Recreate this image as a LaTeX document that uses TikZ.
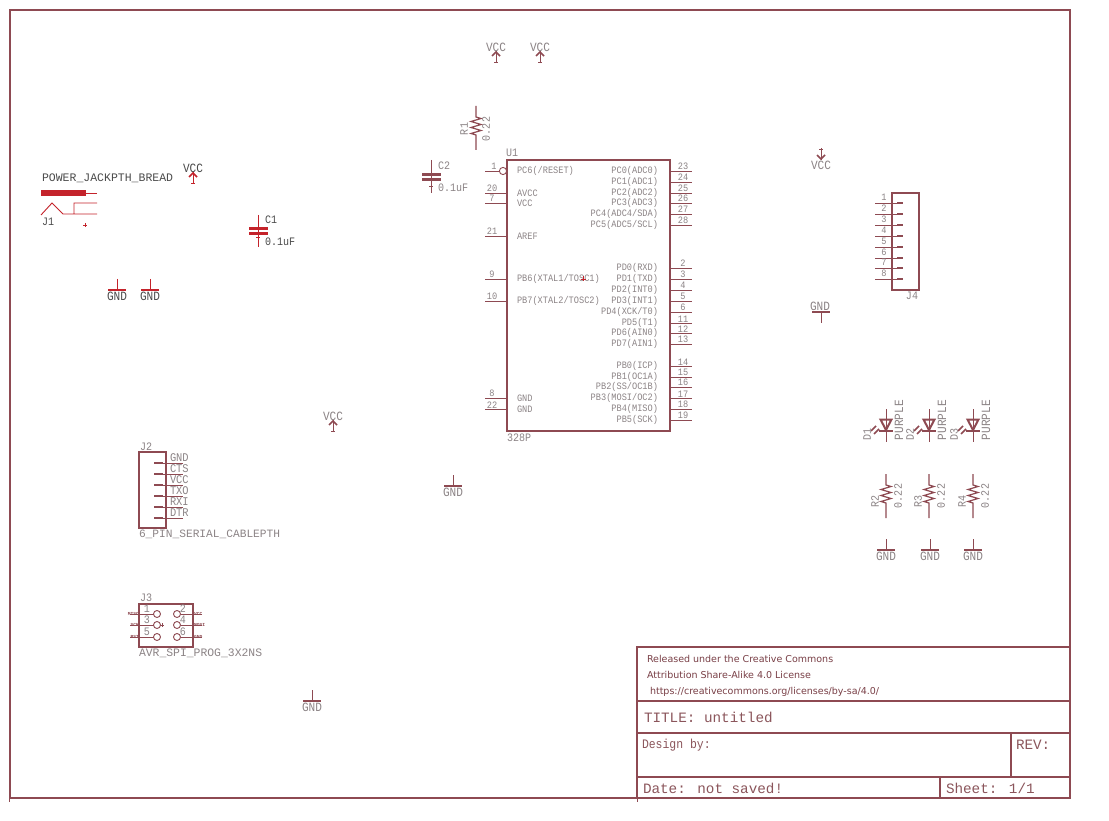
\documentclass[tikz,border=0pt]{standalone}
\usepackage{fontspec}
\setmainfont{Liberation Mono}
\newfontfamily\licfont{DejaVu Sans}
\newfontfamily\pinfont[FakeStretch=0.88]{Liberation Mono}
\usetikzlibrary{positioning}
\definecolor{schline}{HTML}{8E4A52}
\definecolor{schred}{HTML}{C4232B}
\definecolor{schtext}{HTML}{8C8486}
\definecolor{schdark}{HTML}{4A4A4A}
\tikzset{
  frameline/.style={draw=schline, line width=2pt},
  pinline/.style={draw=schline, line width=0.9pt},
  redline/.style={draw=schred, line width=0.9pt},
  txt/.style={inner sep=0, outer sep=0, text=schtext, font=\pinfont\fontsize{9.8}{11}\selectfont},
  txtval/.style={txt, font=\pinfont\fontsize{11.4}{13}\selectfont},
  txtsym/.style={txt, font=\pinfont\fontsize{12.6}{14}\selectfont},
  txtbig/.style={txt, font=\fontsize{11.4}{13}\selectfont},
  txttitle/.style={txt, text=schline!80!gray, font=\fontsize{14.3}{16}\selectfont},
  txtlic/.style={inner sep=0, outer sep=0, anchor=west, text=schline!85!black, font=\licfont\fontsize{9.5}{12}\selectfont},
  txttiny/.style={inner sep=0, outer sep=0, text=schline, font=\bfseries\fontsize{4.6}{5}\selectfont},
}
% supply and ground symbols: x, y of the free end
\newcommand{\vccup}[4][schline]{
  \draw[draw=#1, line width=0.9pt] (#2,#3+12) -- (#2,#3) (#2-2,#3+11) -- (#2+2,#3+11);
  \draw[draw=#1, line width=1.5pt] (#2-4,#3+5) -- (#2,#3+1) -- (#2+4,#3+5);
  \node[txtsym, text=#4] (vcc#2) at (#2,#3-4) {VCC};
}
\newcommand{\gndsym}[4][schline]{
  \draw[draw=#1, line width=0.9pt] (#2,#3) -- (#2,#3+11);
  \draw[draw=#1, line width=2pt] (#2-9,#3+11) -- (#2+9,#3+11);
  \node[txtsym, text=#4] (gnd#2x#3) at (#2,#3+17) {GND};
}
\newcommand{\resv}[2]{
  \draw[pinline, line width=1.2pt] (#1,#2) -- (#1,#2+11) -- ++(5,1.5) -- ++(-10,3) -- ++(10,3) -- ++(-10,3) -- ++(10,3) -- ++(-10,3) -- ++(5,1.5) -- (#1,#2+44);
}
\newcommand{\ledv}[2]{
  \draw[pinline] (#1,#2) -- (#1,#2+33);
  \draw[pinline, line width=2pt] (#1-5.5,#2+10.5) -- (#1+5.5,#2+10.5) -- (#1,#2+21) -- cycle;
  \draw[pinline, line width=2pt] (#1-7,#2+22) -- (#1+7,#2+22);
  \draw[pinline, line width=1.6pt] (#1-15,#2+22) -- ++(5,-5) (#1-12,#2+25) -- ++(5,-5);
}
\begin{document}
\begin{tikzpicture}[x=1pt, y=-1pt]
  \useasboundingbox (0,0) rectangle (1109,821);
  \fill[white] (0,0) rectangle (1109,821);

  % sheet frame
  \draw[frameline] (9.5,10) rectangle (1070,798);
  \draw[frameline] (637,647) rectangle (1070,798);
  \draw[frameline] (637,701) -- (1070,701);
  \draw[frameline] (637,733) -- (1070,733);
  \draw[frameline] (637,777) -- (1070,777);
  \draw[frameline] (1011,733) -- (1011,777);
  \draw[frameline] (940,777) -- (940,798);
  \draw[pinline] (637,798) -- (637,802);
  \draw[pinline] (9.5,798) -- (9.5,802);

  \node[txtlic] (lic1) at (647,659) {Released under the Creative Commons};
  \node[txtlic] (lic2) at (647,675) {Attribution Share-Alike 4.0 License};
  \node[txtlic] (lic3) at (650,692) {https://creativecommons.org/licenses/by-sa/4.0/};
  \node[txttitle, anchor=west] (title) at (644,717) {TITLE: untitled};
  \node[txttitle, anchor=west, font=\pinfont\fontsize{13}{16}\selectfont] (design) at (642,745) {Design by:};
  \node[txttitle, anchor=west] (rev) at (1016,745) {REV:};
  \node[txttitle, anchor=west] (date) at (643,788) {Date: not saved!};
  \node[txttitle, anchor=west] (sheet) at (946,788) {Sheet: 1/1};

  % U1
  \node[draw=schline, line width=2pt, minimum width=163pt, minimum height=271pt, inner sep=0, outer sep=0] (u1) at (588.5,295.5) {};
  \node[txtval, anchor=south west] (u1name) at (506,157) {U1};
  \node[txtval, anchor=north west] (u1value) at (507,434) {328P};
  \foreach \y/\num/\pname in {193/20/AVCC, 203/7/VCC, 236/21/AREF, 279/9/{PB6(XTAL1/TOSC1)}, 301/10/{PB7(XTAL2/TOSC2)}, 398/8/GND, 409/22/GND}{
    \draw[pinline] (u1.west |- 0,\y) -- ++(-22,0);
    \node[txt, anchor=south] (num\num) at (492,\y-1) {\num};
    \node[txt, anchor=west] (name\num) at (517,\y) {\pname};
  }
  \draw[pinline] (499,171) -- (485,171);
  \draw[pinline] (503,171) circle (3.6);
  \node[txt, anchor=south] (num1) at (494,170) {1};
  \node[txt, anchor=west] (name1) at (517,171) {PC6(/RESET)};
  \foreach \y/\num/\pname in {171/23/PC0(ADC0), 182/24/PC1(ADC1), 193/25/PC2(ADC2), 203/26/PC3(ADC3), 214/27/{PC4(ADC4/SDA)}, 225/28/{PC5(ADC5/SCL)},
      268/2/PD0(RXD), 279/3/PD1(TXD), 290/4/PD2(INT0), 301/5/PD3(INT1), 312/6/{PD4(XCK/T0)}, 323/11/PD5(T1), 333/12/PD6(AIN0), 344/13/PD7(AIN1),
      366/14/PB0(ICP), 377/15/PB1(OC1A), 387/16/{PB2(SS/OC1B)}, 398/17/{PB3(MOSI/OC2)}, 409/18/PB4(MISO), 420/19/PB5(SCK)}{
    \draw[pinline] (u1.east |- 0,\y) -- ++(22,0);
    \node[txt, anchor=south] (num\num) at (683,\y-1) {\num};
    \node[txt, anchor=east] (name\num) at (658,\y) {\pname};
  }
  \draw[redline] (580.5,279) -- (585.5,279) (583,276.5) -- (583,281.5);

  % supplies at the top
  \vccup{496}{51}{schtext}
  \vccup{540}{51}{schtext}
  \vccup[schred]{193}{172}{schdark}
  \vccup{333}{420}{schtext}
  % VCC, pointing down
  \draw[pinline] (821,148) -- (821,160) (819,149) -- (823,149);
  \draw[pinline, line width=1.5pt] (817,155) -- (821,159) -- (825,155);
  \node[txtsym] (vccdown) at (821,165.5) {VCC};

  \gndsym[schred]{117}{279}{schdark}
  \gndsym[schred]{150}{279}{schdark}
  \gndsym{453}{475}{schtext}
  \gndsym{312}{690}{schtext}
  \gndsym{886}{539}{schtext}
  \gndsym{930}{539}{schtext}
  \gndsym{973}{539}{schtext}
  % GND, upside down
  \draw[pinline] (821,312) -- (821,323);
  \draw[pinline, line width=2pt] (812,312) -- (830,312);
  \node[txtsym] (gndup) at (820,306.5) {GND};

  % R1 and C2
  \resv{476}{106}
  \node[txtval, rotate=90] (r1name) at (464,129) {R1};
  \node[txtval, rotate=90] (r1value) at (486,129) {0.22};
  \draw[pinline] (431,160) -- (431,193) (429,186) -- (433,186);
  \draw[pinline, line width=3pt] (422,174.5) -- (441,174.5) (422,179.5) -- (441,179.5);
  \node[txtval, anchor=west] (c2name) at (438,166) {C2};
  \node[txtval, anchor=west] (c2value) at (438,188) {0.1uF};

  % J1 and C1
  \node[txtbig, text=schdark, anchor=west, font=\fontsize{11.5}{13}\selectfont] (j1value) at (42,178) {POWER\_JACKPTH\_BREAD};
  \fill[schred] (41,190) rectangle (86,196);
  \draw[redline] (86,193) -- (97,193);
  \draw[redline] (41,215) -- (52,203) -- (63,214) -- (97,214) (74,214) -- (74,203) -- (97,203);
  \draw[redline] (83,225) -- (87,225) (85,223) -- (85,227);
  \node[txtval, text=schdark, anchor=west] (j1name) at (42,222) {J1};
  \draw[redline] (258,215) -- (258,247) (256,237) -- (260,237);
  \draw[draw=schred, line width=3pt] (249,228.5) -- (268,228.5) (249,233.5) -- (268,233.5);
  \node[txtval, text=schdark, anchor=west] (c1name) at (265,220) {C1};
  \node[txtval, text=schdark, anchor=west] (c1value) at (265,242) {0.1uF};

  % J2
  \draw[frameline] (139,452) rectangle (166,528);
  \node[txtval, anchor=west] (j2name) at (140,447) {J2};
  \node[txtbig, anchor=west, font=\fontsize{11.2}{13}\selectfont] (j2value) at (139,534) {6\_PIN\_SERIAL\_CABLEPTH};
  \foreach \y/\pname in {463/GND, 474/CTS, 485/VCC, 496/TXO, 507/RXI, 518/DTR}{
    \draw[pinline] (154,\y) -- (183,\y);
    \draw[pinline, line width=2pt] (154,\y) -- (163,\y);
    \node[txtsym, anchor=west, font=\pinfont\fontsize{11.8}{13}\selectfont] (j2\pname) at (170,\y-5) {\pname};
  }

  % J3
  \draw[frameline] (139,604) rectangle (193,647);
  \node[txtval, anchor=west] (j3name) at (140,598) {J3};
  \node[txtbig, anchor=west] (j3value) at (139,653) {AVR\_SPI\_PROG\_3X2NS};
  \foreach \y/\lnum/\lname/\rnum/\rname in {614/1/MISO/2/VCC, 625/3/SCK/4/MOSI, 637/5/RST/6/GND}{
    \draw[pinline] (130,\y) -- (153.5,\y);
    \draw[pinline] (157,\y) circle (3.5);
    \draw[pinline] (177,\y) circle (3.5);
    \draw[pinline] (180.5,\y) -- (202,\y);
    \node[txtval, anchor=center] (j3n\lnum) at (147,\y-5) {\lnum};
    \node[txtval, anchor=center] (j3n\rnum) at (183,\y-5) {\rnum};
    \node[txttiny, anchor=east] (j3t\lnum) at (139,\y) {\lname};
    \node[txttiny, anchor=west] (j3t\rnum) at (194,\y) {\rname};
  }
  \draw[pinline] (160,625) -- (164,625) (162,623) -- (162,627);

  % J4
  \draw[frameline] (892,193) rectangle (919,290);
  \node[txtval, anchor=center] (j4name) at (912,296) {J4};
  \foreach \y/\num in {203/1, 214/2, 225/3, 236/4, 247/5, 258/6, 268/7, 279/8}{
    \draw[pinline] (875,\y) -- (903,\y);
    \draw[pinline, line width=2pt] (897,\y) -- (903,\y);
    \node[txt, anchor=center] (j4n\num) at (884,\y-5.5) {\num};
  }

  % LEDs and their resistors
  \foreach \x/\d/\r in {886/D1/R2, 929/D2/R3, 973/D3/R4}{
    \ledv{\x}{409}
    \node[txtval, rotate=90] (\d name) at (\x-19,434) {\d};
    \node[txtsym, rotate=90, anchor=west] (\d value) at (\x+13,440) {PURPLE};
    \resv{\x}{474}
    \node[txtval, rotate=90] (\r name) at (\x-11,501) {\r};
    \node[txtval, rotate=90] (\r value) at (\x+12,496) {0.22};
  }
\end{tikzpicture}
\end{document}
